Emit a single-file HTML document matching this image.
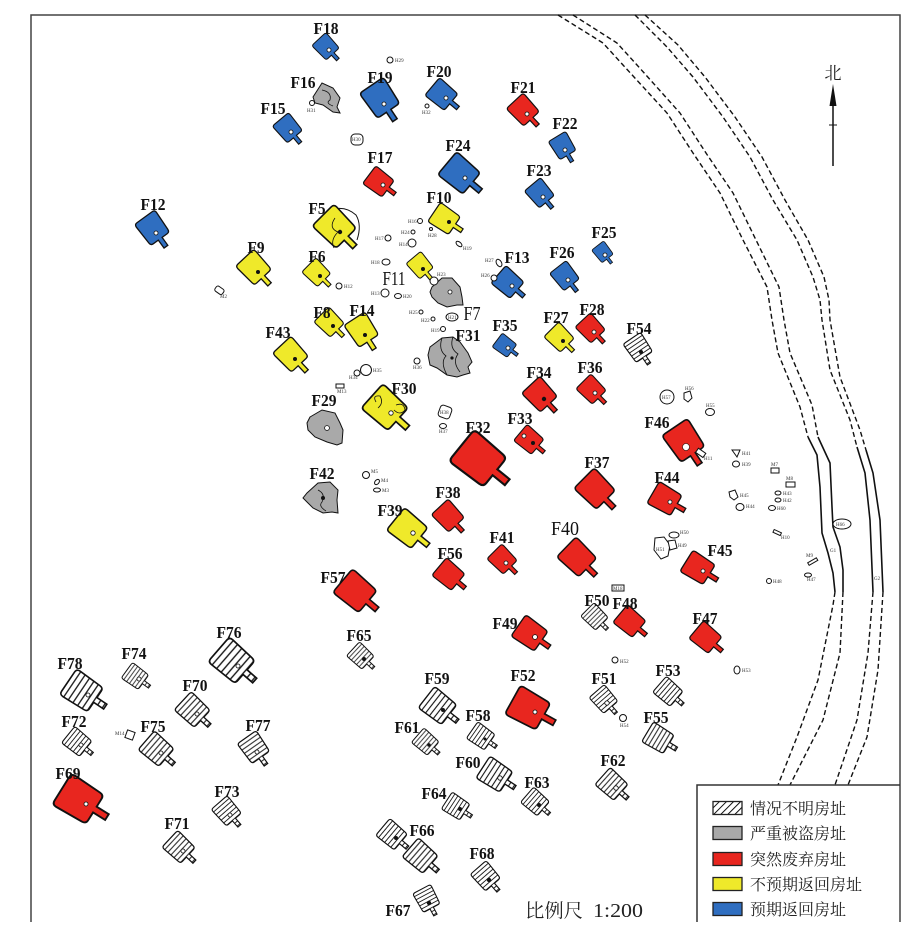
<!DOCTYPE html>
<html><head><meta charset="utf-8">
<style>
html,body{margin:0;padding:0;background:#fff;}
svg{display:block;}
.b{fill:#2f6ec0}.r{fill:#e8261f}.y{fill:#efe92a}.g{fill:#a9a9a9}.x{fill:url(#ht)}
use{stroke:#111;stroke-width:.1}
.d{fill:#fff;stroke:#111;stroke-width:.8}
.dd{fill:#111}
.L{font-family:"Liberation Serif",serif;font-weight:bold;font-size:17px;fill:#111;text-anchor:middle}
.LR{font-family:"Liberation Serif",serif;font-size:20px;fill:#111;text-anchor:middle}
.s{font-family:"Liberation Serif",serif;font-size:5px;fill:#333}
.o{fill:#fff;stroke:#111;stroke-width:1}
.dash{fill:none;stroke:#111;stroke-width:1.4;stroke-dasharray:5 3}
.sol{fill:none;stroke:#111;stroke-width:1.6}
.cjk{font-family:"Liberation Serif","Noto Serif CJK SC",serif;font-size:16px;fill:#222}
.bl{stroke:#111;stroke-width:1}
</style></head>
<body>
<svg width="917" height="936" viewBox="0 0 917 936" xmlns="http://www.w3.org/2000/svg">
<defs>
<path id="h" d="M-0.72,-1.5 L0.72,-1.5 Q0.96,-1.5 0.96,-1.25 L0.9,0.3 Q0.89,0.55 0.66,0.55 L0.18,0.55 L0.18,1.3 L-0.18,1.3 L-0.18,0.55 L-0.66,0.55 Q-0.89,0.55 -0.9,0.3 L-0.96,-1.25 Q-0.96,-1.5 -0.72,-1.5 Z"/>
<pattern id="ht" patternUnits="userSpaceOnUse" width="4" height="0.34"><rect width="4" height="0.34" fill="#fff"/><rect y="0.13" width="4" height="0.08" fill="#111"/></pattern>
<pattern id="hl" patternUnits="userSpaceOnUse" width="5" height="5" patternTransform="rotate(45)"><rect width="5" height="5" fill="#fff"/><rect width="1" height="5" fill="#111"/></pattern>
</defs>
<rect width="917" height="936" fill="#fff"/>

<!-- frame -->
<path d="M31,922 L31,15 L900,15 L900,922" fill="none" stroke="#444" stroke-width="1.5"/>

<!-- river / ditch lines -->
<path class="dash" d="M558,15 L603,43 L623,65 L667,113 L693,153 L720,193 L743,240 L767,287 L772,320 L778,353 L800,407 L808,437"/>
<path class="sol" d="M808,437 L817,455 L820,487 L822,533 L828,553 L833,573 L835,592"/>
<path class="dash" d="M835,592 L833,605 L818,680 L797,737 L778,785"/>
<path class="dash" d="M573,15 L617,43 L637,65 L680,113 L706,153 L733,193 L756,240 L779,287 L784,320 L790,353 L812,405 L818,437"/>
<path class="sol" d="M818,437 L830,463 L832,507 L833,527 L840,547 L843,570 L843,592"/>
<path class="dash" d="M843,592 L840,653 L823,720 L790,785"/>
<path class="dash" d="M635,15 L667,47 L693,77 L723,117 L750,157 L773,200 L797,240 L813,277 L820,300 L822,320 L830,370 L850,420 L857,447"/>
<path class="sol" d="M857,447 L865,473 L870,520 L873,592"/>
<path class="dash" d="M873,592 L868,653 L857,720 L835,785"/>
<path class="dash" d="M645,15 L678,45 L705,77 L735,117 L762,157 L785,200 L808,240 L824,277 L829,300 L830,320 L840,377 L860,430 L866,450"/>
<path class="sol" d="M866,450 L873,473 L880,520 L883,592"/>
<path class="dash" d="M883,592 L878,670 L867,737 L848,785"/>
<ellipse class="o" cx="842" cy="524" rx="9" ry="5"/><text class="s" x="836" y="526">H66</text>
<text class="s" x="830" y="552">G1</text><text class="s" x="874" y="580">G2</text>

<!-- north arrow -->
<text x="833" y="79" font-family="'Liberation Serif','Noto Serif CJK SC',serif" font-size="17" text-anchor="middle" fill="#222">北</text>
<polygon points="833,84 829.5,106 836.5,106" fill="#111"/>
<line x1="833" y1="100" x2="833" y2="166" stroke="#111" stroke-width="1.5"/>
<line x1="829" y1="125" x2="837" y2="125" stroke="#111" stroke-width="1"/>

<!-- gray irregular houses -->
<path class="g bl" d="M313,97 L322,83 L333,88 L340,98 L337,107 L340,113 L333,112 L323,105 L315,103 Z"/>
<path d="M322,90 Q332,92 330,100 Q325,103 333,106" fill="none" stroke="#111" stroke-width=".8"/>
<path class="g bl" d="M432,287 L442,278 L452,278 L460,287 L462,297 L463,305 L457,305 L447,307 L438,303 L432,297 L430,292 Z"/>
<path class="g bl" d="M430,347 L442,338 L453,337 L460,342 L468,353 L472,362 L468,367 L470,373 L463,375 L457,377 L447,375 L437,368 L430,365 L428,355 Z"/>
<path d="M442,338 Q438,350 446,356 Q440,362 447,375 M453,337 Q449,348 458,354 Q452,362 460,372" fill="none" stroke="#111" stroke-width=".8"/>
<path class="g bl" d="M310,417 L322,410 L335,413 L340,423 L343,430 L342,443 L337,445 L327,442 L315,437 L308,430 L307,423 Z"/>
<path class="g bl" d="M307,493 L318,483 L330,482 L338,490 L337,500 L338,513 L332,512 L323,513 L313,508 L307,502 L303,498 Z"/>
<path d="M318,490 Q326,494 322,502 Q318,506 326,511" fill="none" stroke="#111" stroke-width=".8"/>
<circle class="d" cx="450" cy="292" r="2"/><circle class="d" cx="327" cy="428" r="2.4"/><circle class="dd" cx="323" cy="498" r="2"/><circle class="dd" cx="452" cy="358" r="1.6"/>

<!-- blue -->
<use href="#h" class="b" transform="translate(329,50) rotate(-43) scale(10)"/>
<use href="#h" class="b" transform="translate(291,132) rotate(-40) scale(11)"/>
<use href="#h" class="b" transform="translate(384,104) rotate(-34) scale(15)"/>
<use href="#h" class="b" transform="translate(446,98) rotate(-50) scale(12)"/>
<use href="#h" class="b" transform="translate(156,233) rotate(-36) scale(13)"/>
<use href="#h" class="b" transform="translate(465,178) rotate(-50) scale(15.5)"/>
<use href="#h" class="b" transform="translate(565,150) rotate(-31) scale(10.5)"/>
<use href="#h" class="b" transform="translate(543,197) rotate(-40) scale(11)"/>
<use href="#h" class="b" transform="translate(605,255) rotate(-38) scale(8)"/>
<use href="#h" class="b" transform="translate(568,280) rotate(-38) scale(11)"/>
<use href="#h" class="b" transform="translate(512,286) rotate(-49) scale(12)"/>
<use href="#h" class="b" transform="translate(508,348) rotate(-53) scale(9)"/>

<!-- red -->
<use href="#h" class="r" transform="translate(527,114) rotate(-43) scale(12)"/>
<use href="#h" class="r" transform="translate(383,185) rotate(-53) scale(11.5)"/>
<use href="#h" class="r" transform="translate(594,332) rotate(-43) scale(11)"/>
<use href="#h" class="r" transform="translate(544,399) rotate(-43) scale(13)"/>
<use href="#h" class="r" transform="translate(595,393) rotate(-45) scale(11)"/>
<use href="#h" class="r" transform="translate(533,443) rotate(-50) scale(11)"/>
<use href="#h" class="r" transform="translate(486,465) rotate(-51) scale(21)"/>
<use href="#h" class="r" transform="translate(600,494) rotate(-45) scale(15)"/>
<use href="#h" class="r" transform="translate(688,447) rotate(-34) scale(16)"/>
<use href="#h" class="r" transform="translate(670,502) rotate(-60) scale(13)"/>
<use href="#h" class="r" transform="translate(452,520) rotate(-43) scale(12)"/>
<use href="#h" class="r" transform="translate(453,578) rotate(-50) scale(12)"/>
<use href="#h" class="r" transform="translate(506,563) rotate(-45) scale(11)"/>
<use href="#h" class="r" transform="translate(582,562) rotate(-46) scale(14.5)"/>
<use href="#h" class="r" transform="translate(703,571) rotate(-58) scale(13)"/>
<use href="#h" class="r" transform="translate(361,596) rotate(-50) scale(16)"/>
<use href="#h" class="r" transform="translate(535,637) rotate(-55) scale(13.5)"/>
<use href="#h" class="r" transform="translate(634,625) rotate(-50) scale(12)"/>
<use href="#h" class="r" transform="translate(535,712) rotate(-61) scale(17)"/>
<use href="#h" class="r" transform="translate(710,641) rotate(-50) scale(12)"/>
<use href="#h" class="r" transform="translate(86,804) rotate(-58) scale(19)"/>
<rect x="696" y="450" width="9" height="5" class="o" transform="rotate(35 700 453)"/>

<!-- yellow -->
<path d="M330,210 Q345,205 356,215 Q362,225 357,240" fill="none" stroke="#111" stroke-width="1"/>
<use href="#h" class="y" transform="translate(340,232) rotate(-45) scale(16)"/>
<use href="#h" class="y" transform="translate(449,222) rotate(-56) scale(12)"/>
<use href="#h" class="y" transform="translate(258,272) rotate(-43) scale(13)"/>
<use href="#h" class="y" transform="translate(320,276) rotate(-45) scale(10.5)"/>
<use href="#h" class="y" transform="translate(423,269) rotate(-40) scale(10)"/>
<use href="#h" class="y" transform="translate(333,326) rotate(-45) scale(11)"/>
<use href="#h" class="y" transform="translate(365,335) rotate(-33) scale(13)"/>
<use href="#h" class="y" transform="translate(295,359) rotate(-43) scale(13)"/>
<use href="#h" class="y" transform="translate(563,341) rotate(-45) scale(11)"/>
<use href="#h" class="y" transform="translate(391,413) rotate(-48) scale(17)"/>
<use href="#h" class="y" transform="translate(413,533) rotate(-51) scale(15)"/>
<path d="M335,218 Q328,228 338,232 Q330,240 334,248" fill="none" stroke="#111" stroke-width=".8"/>
<path d="M376,402 Q372,395 380,396 Q384,403 378,408 M396,405 Q404,402 405,410 Q400,416 394,410" fill="none" stroke="#111" stroke-width=".8"/>

<!-- hatched -->
<use href="#h" class="x" transform="translate(641,352) rotate(-34) scale(11)"/>
<use href="#h" class="x" transform="translate(598,620) rotate(-45) scale(10)"/>
<use href="#h" class="x" transform="translate(364,659) rotate(-47) scale(10)"/>
<use href="#h" class="x" transform="translate(443,710) rotate(-52) scale(14)"/>
<use href="#h" class="x" transform="translate(607,703) rotate(-41) scale(10.5)"/>
<use href="#h" class="x" transform="translate(672,695) rotate(-49) scale(11)"/>
<use href="#h" class="x" transform="translate(485,739) rotate(-55) scale(10.5)"/>
<use href="#h" class="x" transform="translate(429,745) rotate(-49) scale(10)"/>
<use href="#h" class="x" transform="translate(663,741) rotate(-59) scale(12)"/>
<use href="#h" class="x" transform="translate(500,778) rotate(-57) scale(13.5)"/>
<use href="#h" class="x" transform="translate(539,805) rotate(-49) scale(10.5)"/>
<use href="#h" class="x" transform="translate(616,788) rotate(-48) scale(12)"/>
<use href="#h" class="x" transform="translate(460,809) rotate(-57) scale(10.5)"/>
<use href="#h" class="x" transform="translate(396,838) rotate(-50) scale(11.5)"/>
<use href="#h" class="x" transform="translate(425,860) rotate(-49) scale(13)"/>
<use href="#h" class="x" transform="translate(489,880) rotate(-41) scale(11)"/>
<use href="#h" class="x" transform="translate(429,903) rotate(-28) scale(10.5)"/>
<use href="#h" class="x" transform="translate(238,666) rotate(-49) scale(17)"/>
<use href="#h" class="x" transform="translate(139,679) rotate(-54) scale(10)"/>
<use href="#h" class="x" transform="translate(88,695) rotate(-56) scale(16)"/>
<use href="#h" class="x" transform="translate(197,714) rotate(-47) scale(13)"/>
<use href="#h" class="x" transform="translate(81,745) rotate(-51) scale(11)"/>
<use href="#h" class="x" transform="translate(161,753) rotate(-49) scale(13)"/>
<use href="#h" class="x" transform="translate(257,752) rotate(-35) scale(12)"/>
<use href="#h" class="x" transform="translate(230,815) rotate(-41) scale(11)"/>
<use href="#h" class="x" transform="translate(183,851) rotate(-47) scale(12)"/>

<!-- hearth dots -->
<g>
<circle class="d" cx="329" cy="50" r="2"/><circle class="d" cx="291" cy="132" r="2"/><circle class="d" cx="384" cy="104" r="2"/><circle class="d" cx="446" cy="98" r="2"/><circle class="d" cx="156" cy="233" r="2"/><circle class="d" cx="465" cy="178" r="2"/><circle class="d" cx="565" cy="150" r="2"/><circle class="d" cx="543" cy="197" r="2"/><circle class="d" cx="605" cy="255" r="2"/><circle class="d" cx="568" cy="280" r="2"/><circle class="d" cx="512" cy="286" r="2"/><circle class="d" cx="508" cy="348" r="2"/>
<circle class="d" cx="527" cy="114" r="2"/><circle class="d" cx="383" cy="185" r="2"/><circle class="d" cx="594" cy="332" r="2"/><circle class="dd" cx="544" cy="399" r="2.2"/><circle class="d" cx="595" cy="393" r="2"/><circle class="dd" cx="533" cy="443" r="2"/><circle class="d" cx="524" cy="436" r="2"/><circle cx="686" cy="447" r="3.5" fill="#fff" stroke="#111" stroke-width=".6"/><circle class="d" cx="670" cy="502" r="2"/><circle class="d" cx="506" cy="563" r="2"/><circle class="d" cx="703" cy="571" r="2"/><circle class="d" cx="535" cy="637" r="2.4"/><circle class="d" cx="535" cy="712" r="2"/><circle class="d" cx="86" cy="804" r="2"/>
<circle class="dd" cx="340" cy="232" r="2.2"/><circle class="dd" cx="449" cy="222" r="2"/><circle class="dd" cx="258" cy="272" r="2"/><circle class="dd" cx="320" cy="276" r="2"/><circle class="dd" cx="423" cy="269" r="2"/><circle class="dd" cx="333" cy="326" r="2"/><circle class="dd" cx="365" cy="335" r="2"/><circle class="dd" cx="295" cy="359" r="2"/><circle class="dd" cx="563" cy="341" r="2"/><circle class="d" cx="391" cy="413" r="2.2"/><circle class="d" cx="413" cy="533" r="2.2"/>
<circle class="dd" cx="641" cy="352" r="2"/><circle class="dd" cx="364" cy="659" r="2"/><circle class="dd" cx="443" cy="710" r="2"/><circle class="d" cx="607" cy="703" r="2.2"/><circle class="dd" cx="485" cy="739" r="1.5"/><circle class="dd" cx="429" cy="745" r="1.8"/><circle class="d" cx="500" cy="778" r="2.2"/><circle class="dd" cx="539" cy="805" r="2"/><circle class="d" cx="616" cy="788" r="2.2"/><circle class="dd" cx="460" cy="809" r="2"/><circle class="dd" cx="396" cy="838" r="2"/><circle class="dd" cx="489" cy="880" r="2.2"/><circle class="dd" cx="429" cy="903" r="2.2"/><circle class="d" cx="238" cy="666" r="2"/><circle class="d" cx="139" cy="679" r="2"/><circle class="d" cx="88" cy="695" r="2"/><circle class="d" cx="197" cy="714" r="2"/><circle class="d" cx="81" cy="745" r="2"/><circle class="d" cx="161" cy="753" r="2"/><circle class="d" cx="257" cy="752" r="2"/><circle class="d" cx="230" cy="815" r="2"/><circle class="d" cx="183" cy="851" r="2"/>
</g>

<!-- small features -->
<circle class="o" cx="390" cy="60" r="3"/><text class="s" x="395" y="62">H29</text>
<rect class="o" x="351" y="134" width="12" height="11" rx="4"/><text class="s" x="352" y="141">H30</text>
<circle class="o" cx="312" cy="103" r="2.5"/><text class="s" x="307" y="112">H31</text>
<circle class="o" cx="427" cy="106" r="2"/><text class="s" x="422" y="114">H32</text>
<circle class="o" cx="420" cy="221" r="2.5"/><text class="s" x="408" y="223">H16</text>
<circle class="o" cx="413" cy="232" r="2"/><text class="s" x="401" y="234">H24</text>
<circle class="o" cx="412" cy="243" r="4"/><text class="s" x="399" y="246">H14</text>
<circle class="o" cx="388" cy="238" r="3"/><text class="s" x="375" y="240">H17</text>
<circle class="o" cx="431" cy="229" r="1.5"/><text class="s" x="428" y="237">H28</text>
<ellipse class="o" cx="459" cy="244" rx="2" ry="3.5" transform="rotate(-50 459 244)"/><text class="s" x="463" y="250">H19</text>
<ellipse class="o" cx="386" cy="262" rx="4" ry="3"/><text class="s" x="371" y="264">H18</text>
<circle class="o" cx="385" cy="293" r="4"/><text class="s" x="371" y="295">H13</text>
<ellipse class="o" cx="398" cy="296" rx="3.5" ry="2.5"/><text class="s" x="403" y="298">H20</text>
<circle class="o" cx="434" cy="281" r="4"/><text class="s" x="437" y="276">H23</text>
<ellipse class="o" cx="499" cy="263" rx="2.5" ry="4" transform="rotate(-30 499 263)"/><text class="s" x="485" y="262">H27</text>
<circle class="o" cx="494" cy="278" r="3"/><text class="s" x="481" y="277">H26</text>
<circle class="o" cx="339" cy="286" r="3"/><text class="s" x="344" y="288">H12</text>
<rect class="o" x="215" y="287" width="9" height="6" rx="2" transform="rotate(35 219 290)"/><text class="s" x="220" y="298">M2</text>
<circle class="o" cx="421" cy="312" r="2"/><text class="s" x="409" y="314">H25</text>
<circle class="o" cx="433" cy="319" r="2"/><text class="s" x="421" y="322">H22</text>
<ellipse class="o" cx="452" cy="317" rx="6" ry="4"/><text class="s" x="448" y="319">H21</text>
<circle class="o" cx="443" cy="329" r="2.5"/><text class="s" x="431" y="332">H19</text>
<circle class="o" cx="417" cy="361" r="3"/><text class="s" x="413" y="369">H36</text>
<circle class="o" cx="366" cy="370" r="5.5"/><text class="s" x="373" y="372">H35</text>
<circle class="o" cx="357" cy="373" r="3"/><text class="s" x="349" y="379">H34</text>
<rect class="o" x="336" y="384" width="8" height="4"/><text class="s" x="337" y="393">M13</text>
<rect class="o" x="439" y="406" width="12" height="12" rx="3" transform="rotate(20 445 412)"/><text class="s" x="440" y="414">H38</text>
<ellipse class="o" cx="443" cy="426" rx="3.5" ry="2.5"/><text class="s" x="439" y="433">H37</text>
<circle class="o" cx="366" cy="475" r="3.5"/><text class="s" x="371" y="473">M5</text>
<ellipse class="o" cx="377" cy="482" rx="2" ry="3" transform="rotate(40 377 482)"/><text class="s" x="381" y="482">M4</text>
<ellipse class="o" cx="377" cy="490" rx="3.5" ry="2"/><text class="s" x="382" y="492">M3</text>
<circle class="o" cx="667" cy="397" r="7"/><text class="s" x="662" y="399">H57</text>
<path class="o" d="M684,393 L690,391 L692,398 L688,402 L684,399 Z"/><text class="s" x="685" y="390">H56</text>
<ellipse class="o" cx="710" cy="412" rx="4.5" ry="3.5"/><text class="s" x="706" y="407">H55</text>
<text class="s" x="704" y="460">H11</text>
<path class="o" d="M732,450 L740,450 L737,457 Z"/><text class="s" x="742" y="455">H41</text>
<ellipse class="o" cx="736" cy="464" rx="3.5" ry="3"/><text class="s" x="742" y="466">H39</text>
<rect class="o" x="771" y="468" width="8" height="5"/><text class="s" x="771" y="466">M7</text>
<rect class="o" x="786" y="482" width="9" height="5"/><text class="s" x="786" y="480">M8</text>
<ellipse class="o" cx="778" cy="493" rx="3" ry="2"/><text class="s" x="783" y="495">H43</text>
<ellipse class="o" cx="778" cy="500" rx="3" ry="2"/><text class="s" x="783" y="502">H42</text>
<ellipse class="o" cx="772" cy="508" rx="3.5" ry="2.5"/><text class="s" x="777" y="510">H60</text>
<path class="o" d="M729,492 L735,490 L738,497 L734,500 L730,497 Z"/><text class="s" x="740" y="497">H45</text>
<ellipse class="o" cx="740" cy="507" rx="4" ry="3.5"/><text class="s" x="746" y="508">H44</text>
<rect class="o" x="773" y="531" width="8" height="3" transform="rotate(25 777 533)"/><text class="s" x="781" y="539">H10</text>
<rect class="o" x="808" y="560" width="10" height="3" transform="rotate(-30 813 562)"/><text class="s" x="806" y="557">M9</text>
<ellipse class="o" cx="808" cy="575" rx="3.5" ry="2"/><text class="s" x="807" y="581">H47</text>
<circle class="o" cx="769" cy="581" r="2.5"/><text class="s" x="773" y="583">H48</text>
<ellipse class="o" cx="737" cy="670" rx="3" ry="4"/><text class="s" x="742" y="672">H53</text>
<path class="o" d="M655,538 L664,537 L670,545 L668,556 L661,559 L654,550 Z"/><text class="s" x="656" y="551">H51</text>
<ellipse class="o" cx="674" cy="535" rx="5" ry="3"/><text class="s" x="680" y="534">H50</text>
<path class="o" d="M668,541 L675,540 L677,548 L670,550 Z"/><text class="s" x="678" y="547">H49</text>
<rect class="o" x="612" y="585" width="12" height="6"/><text class="s" x="613" y="590">M18</text>
<circle class="o" cx="615" cy="660" r="3"/><text class="s" x="620" y="663">H52</text>
<circle class="o" cx="623" cy="718" r="3.5"/><text class="s" x="620" y="727">H54</text>
<rect class="o" x="126" y="731" width="8" height="8" transform="rotate(20 130 735)"/><text class="s" x="115" y="735">M14</text>

<!-- labels -->
<g>
<text class="L" x="326" y="34" textLength="25" lengthAdjust="spacingAndGlyphs">F18</text>
<text class="L" x="303" y="88" textLength="25" lengthAdjust="spacingAndGlyphs">F16</text>
<text class="L" x="273" y="114" textLength="25" lengthAdjust="spacingAndGlyphs">F15</text>
<text class="L" x="380" y="83" textLength="25" lengthAdjust="spacingAndGlyphs">F19</text>
<text class="L" x="439" y="77" textLength="25" lengthAdjust="spacingAndGlyphs">F20</text>
<text class="L" x="380" y="163" textLength="25" lengthAdjust="spacingAndGlyphs">F17</text>
<text class="L" x="458" y="151" textLength="25" lengthAdjust="spacingAndGlyphs">F24</text>
<text class="L" x="523" y="93" textLength="25" lengthAdjust="spacingAndGlyphs">F21</text>
<text class="L" x="565" y="129" textLength="25" lengthAdjust="spacingAndGlyphs">F22</text>
<text class="L" x="539" y="176" textLength="25" lengthAdjust="spacingAndGlyphs">F23</text>
<text class="L" x="153" y="210" textLength="25" lengthAdjust="spacingAndGlyphs">F12</text>
<text class="L" x="317" y="214" textLength="17" lengthAdjust="spacingAndGlyphs">F5</text>
<text class="L" x="439" y="203" textLength="25" lengthAdjust="spacingAndGlyphs">F10</text>
<text class="L" x="256" y="253" textLength="17" lengthAdjust="spacingAndGlyphs">F9</text>
<text class="L" x="317" y="262" textLength="17" lengthAdjust="spacingAndGlyphs">F6</text>
<text class="LR" x="394" y="285" textLength="23" lengthAdjust="spacingAndGlyphs">F11</text>
<text class="L" x="604" y="238" textLength="25" lengthAdjust="spacingAndGlyphs">F25</text>
<text class="L" x="562" y="258" textLength="25" lengthAdjust="spacingAndGlyphs">F26</text>
<text class="L" x="517" y="263" textLength="25" lengthAdjust="spacingAndGlyphs">F13</text>
<text class="L" x="322" y="318" textLength="17" lengthAdjust="spacingAndGlyphs">F8</text>
<text class="L" x="362" y="316" textLength="25" lengthAdjust="spacingAndGlyphs">F14</text>
<text class="LR" x="472" y="320" textLength="17" lengthAdjust="spacingAndGlyphs">F7</text>
<text class="L" x="278" y="338" textLength="25" lengthAdjust="spacingAndGlyphs">F43</text>
<text class="L" x="468" y="341" textLength="25" lengthAdjust="spacingAndGlyphs">F31</text>
<text class="L" x="505" y="331" textLength="25" lengthAdjust="spacingAndGlyphs">F35</text>
<text class="L" x="556" y="323" textLength="25" lengthAdjust="spacingAndGlyphs">F27</text>
<text class="L" x="592" y="315" textLength="25" lengthAdjust="spacingAndGlyphs">F28</text>
<text class="L" x="639" y="334" textLength="25" lengthAdjust="spacingAndGlyphs">F54</text>
<text class="L" x="324" y="406" textLength="25" lengthAdjust="spacingAndGlyphs">F29</text>
<text class="L" x="404" y="394" textLength="25" lengthAdjust="spacingAndGlyphs">F30</text>
<text class="L" x="539" y="378" textLength="25" lengthAdjust="spacingAndGlyphs">F34</text>
<text class="L" x="590" y="373" textLength="25" lengthAdjust="spacingAndGlyphs">F36</text>
<text class="L" x="520" y="424" textLength="25" lengthAdjust="spacingAndGlyphs">F33</text>
<text class="L" x="478" y="433" textLength="25" lengthAdjust="spacingAndGlyphs">F32</text>
<text class="L" x="657" y="428" textLength="25" lengthAdjust="spacingAndGlyphs">F46</text>
<text class="L" x="597" y="468" textLength="25" lengthAdjust="spacingAndGlyphs">F37</text>
<text class="L" x="667" y="483" textLength="25" lengthAdjust="spacingAndGlyphs">F44</text>
<text class="L" x="322" y="479" textLength="25" lengthAdjust="spacingAndGlyphs">F42</text>
<text class="L" x="448" y="498" textLength="25" lengthAdjust="spacingAndGlyphs">F38</text>
<text class="L" x="390" y="516" textLength="25" lengthAdjust="spacingAndGlyphs">F39</text>
<text class="LR" x="565" y="535" textLength="28" lengthAdjust="spacingAndGlyphs">F40</text>
<text class="L" x="502" y="543" textLength="25" lengthAdjust="spacingAndGlyphs">F41</text>
<text class="L" x="450" y="559" textLength="25" lengthAdjust="spacingAndGlyphs">F56</text>
<text class="L" x="720" y="556" textLength="25" lengthAdjust="spacingAndGlyphs">F45</text>
<text class="L" x="333" y="583" textLength="25" lengthAdjust="spacingAndGlyphs">F57</text>
<text class="L" x="597" y="606" textLength="25" lengthAdjust="spacingAndGlyphs">F50</text>
<text class="L" x="625" y="609" textLength="25" lengthAdjust="spacingAndGlyphs">F48</text>
<text class="L" x="505" y="629" textLength="25" lengthAdjust="spacingAndGlyphs">F49</text>
<text class="L" x="705" y="624" textLength="25" lengthAdjust="spacingAndGlyphs">F47</text>
<text class="L" x="359" y="641" textLength="25" lengthAdjust="spacingAndGlyphs">F65</text>
<text class="L" x="229" y="638" textLength="25" lengthAdjust="spacingAndGlyphs">F76</text>
<text class="L" x="134" y="659" textLength="25" lengthAdjust="spacingAndGlyphs">F74</text>
<text class="L" x="70" y="669" textLength="25" lengthAdjust="spacingAndGlyphs">F78</text>
<text class="L" x="437" y="684" textLength="25" lengthAdjust="spacingAndGlyphs">F59</text>
<text class="L" x="523" y="681" textLength="25" lengthAdjust="spacingAndGlyphs">F52</text>
<text class="L" x="604" y="684" textLength="25" lengthAdjust="spacingAndGlyphs">F51</text>
<text class="L" x="668" y="676" textLength="25" lengthAdjust="spacingAndGlyphs">F53</text>
<text class="L" x="195" y="691" textLength="25" lengthAdjust="spacingAndGlyphs">F70</text>
<text class="L" x="478" y="721" textLength="25" lengthAdjust="spacingAndGlyphs">F58</text>
<text class="L" x="656" y="723" textLength="25" lengthAdjust="spacingAndGlyphs">F55</text>
<text class="L" x="74" y="727" textLength="25" lengthAdjust="spacingAndGlyphs">F72</text>
<text class="L" x="153" y="732" textLength="25" lengthAdjust="spacingAndGlyphs">F75</text>
<text class="L" x="258" y="731" textLength="25" lengthAdjust="spacingAndGlyphs">F77</text>
<text class="L" x="407" y="733" textLength="25" lengthAdjust="spacingAndGlyphs">F61</text>
<text class="L" x="468" y="768" textLength="25" lengthAdjust="spacingAndGlyphs">F60</text>
<text class="L" x="613" y="766" textLength="25" lengthAdjust="spacingAndGlyphs">F62</text>
<text class="L" x="537" y="788" textLength="25" lengthAdjust="spacingAndGlyphs">F63</text>
<text class="L" x="68" y="779" textLength="25" lengthAdjust="spacingAndGlyphs">F69</text>
<text class="L" x="227" y="797" textLength="25" lengthAdjust="spacingAndGlyphs">F73</text>
<text class="L" x="434" y="799" textLength="25" lengthAdjust="spacingAndGlyphs">F64</text>
<text class="L" x="177" y="829" textLength="25" lengthAdjust="spacingAndGlyphs">F71</text>
<text class="L" x="422" y="836" textLength="25" lengthAdjust="spacingAndGlyphs">F66</text>
<text class="L" x="482" y="859" textLength="25" lengthAdjust="spacingAndGlyphs">F68</text>
<text class="L" x="398" y="916" textLength="25" lengthAdjust="spacingAndGlyphs">F67</text>
</g>

<!-- scale -->
<text x="525" y="917" font-family="'Liberation Serif','Noto Serif CJK SC',serif" font-size="19" fill="#222" textLength="58" lengthAdjust="spacingAndGlyphs">比例尺</text>
<text x="593" y="917" font-family="'Liberation Serif',serif" font-size="20" fill="#222" textLength="50" lengthAdjust="spacingAndGlyphs">1:200</text>

<!-- legend -->
<path d="M697,922 L697,785 L900,785" fill="none" stroke="#333" stroke-width="1.5"/>
<rect x="713" y="801.5" width="29" height="13" fill="url(#hl)" stroke="#222" stroke-width="1.3"/>
<rect x="713" y="826.5" width="29" height="13" fill="#a9a9a9" stroke="#222" stroke-width="1.3"/>
<rect x="713" y="852.5" width="29" height="13" fill="#e8261f" stroke="#222" stroke-width="1.3"/>
<rect x="713" y="877.5" width="29" height="13" fill="#efe92a" stroke="#222" stroke-width="1.3"/>
<rect x="713" y="902.5" width="29" height="13" fill="#2f6ec0" stroke="#222" stroke-width="1.3"/>
<text class="cjk" x="750" y="814">情况不明房址</text>
<text class="cjk" x="750" y="839">严重被盗房址</text>
<text class="cjk" x="750" y="865">突然废弃房址</text>
<text class="cjk" x="750" y="890">不预期返回房址</text>
<text class="cjk" x="750" y="915">预期返回房址</text>
</svg>
</body></html>
